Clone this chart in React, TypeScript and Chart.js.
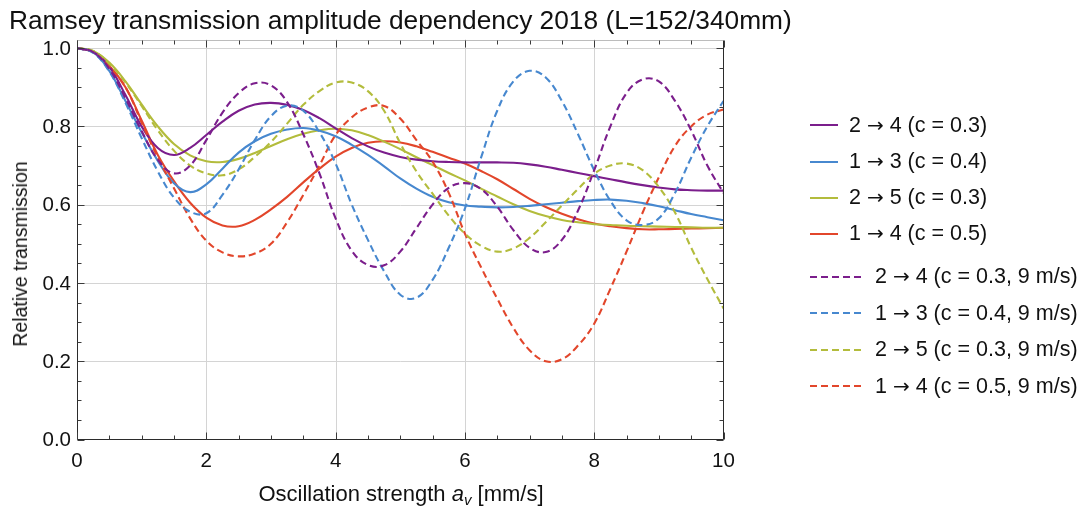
import React, { useEffect, useRef } from "react";
import { Chart, registerables } from "chart.js";

Chart.register(...registerables);

const FONT = '"Liberation Sans", Arial, sans-serif';

const xValues = [
  0, 0.25, 0.5, 0.75, 1, 1.25, 1.5, 1.75, 2, 2.25, 2.5, 2.75, 3, 3.25, 3.5, 3.75, 4, 4.25, 4.5, 4.75,
  5, 5.25, 5.5, 5.75, 6, 6.25, 6.5, 6.75, 7, 7.25, 7.5, 7.75, 8, 8.25, 8.5, 8.75, 9, 9.25, 9.5, 9.75, 10,
];

// solid curves
const purpleSolid = [
  1.0, 0.99, 0.952, 0.88, 0.8, 0.745, 0.727, 0.745, 0.778, 0.812, 0.84, 0.856, 0.86, 0.855, 0.842, 0.821, 0.795, 0.77, 0.749, 0.733,
  0.722, 0.715, 0.711, 0.709, 0.708, 0.708, 0.708, 0.707, 0.703, 0.697, 0.689, 0.681, 0.673, 0.665, 0.657, 0.65, 0.644, 0.639, 0.637, 0.636, 0.636,
];
const blueSolid = [
  1.0, 0.99, 0.942, 0.865, 0.785, 0.712, 0.655, 0.632, 0.652, 0.692, 0.733, 0.762, 0.781, 0.792, 0.796, 0.789, 0.775, 0.753, 0.727, 0.698,
  0.667, 0.641, 0.62, 0.606, 0.598, 0.595, 0.593, 0.594, 0.597, 0.601, 0.605, 0.609, 0.612, 0.613, 0.61, 0.604, 0.596, 0.586, 0.576, 0.568, 0.56,
];
const greenSolid = [
  1.0, 0.993, 0.963, 0.915, 0.856, 0.8, 0.755, 0.726, 0.711, 0.709, 0.717, 0.732, 0.75, 0.767, 0.781, 0.79, 0.794, 0.79, 0.778, 0.761,
  0.742, 0.721, 0.701, 0.681, 0.662, 0.641, 0.621, 0.601, 0.584, 0.571, 0.561, 0.555, 0.55, 0.548, 0.546, 0.545, 0.544, 0.543, 0.542, 0.541, 0.541,
];
const redSolid = [
  1.0, 0.99, 0.955, 0.9, 0.815, 0.727, 0.66, 0.605, 0.567, 0.547, 0.545, 0.561, 0.588, 0.62, 0.657, 0.692, 0.723, 0.745, 0.758, 0.762,
  0.759, 0.749, 0.735, 0.72, 0.705, 0.686, 0.665, 0.64, 0.615, 0.594, 0.577, 0.563, 0.552, 0.545, 0.54, 0.537, 0.537, 0.538, 0.539, 0.54, 0.541,
];

// dashed curves (9 m/s)
const purpleDashed = [
  1.0, 0.99, 0.947, 0.872, 0.788, 0.715, 0.68, 0.7, 0.765, 0.835, 0.885, 0.91, 0.905, 0.862, 0.78, 0.68, 0.565, 0.482, 0.446, 0.445,
  0.48, 0.54, 0.6, 0.643, 0.655, 0.64, 0.595, 0.535, 0.49, 0.479, 0.51, 0.585, 0.688, 0.8, 0.885, 0.92, 0.915, 0.865, 0.79, 0.7, 0.63,
];
const blueDashed = [
  1.0, 0.988, 0.94, 0.86, 0.77, 0.685, 0.618, 0.582, 0.578, 0.625, 0.69, 0.765, 0.826, 0.853, 0.84, 0.785, 0.705, 0.6, 0.51, 0.43,
  0.37, 0.362, 0.408, 0.49, 0.59, 0.72, 0.84, 0.915, 0.942, 0.925, 0.865, 0.78, 0.688, 0.61, 0.56, 0.548, 0.565, 0.63, 0.72, 0.8, 0.865,
];
const greenDashed = [
  1.0, 0.993, 0.96, 0.912, 0.852, 0.79, 0.738, 0.7, 0.68, 0.675, 0.69, 0.722, 0.76, 0.807, 0.855, 0.89, 0.912, 0.912, 0.89, 0.84,
  0.757, 0.685, 0.628, 0.572, 0.526, 0.495, 0.48, 0.488, 0.515, 0.555, 0.598, 0.64, 0.679, 0.7, 0.705, 0.688, 0.645, 0.58, 0.49, 0.41, 0.335,
];
const redDashed = [
  1.0, 0.99, 0.953, 0.9, 0.81, 0.72, 0.642, 0.565, 0.508, 0.478, 0.468, 0.475, 0.5, 0.555, 0.625, 0.7, 0.778, 0.823, 0.848, 0.852,
  0.82, 0.765, 0.71, 0.63, 0.526, 0.44, 0.36, 0.285, 0.228, 0.2, 0.205, 0.24, 0.296, 0.385, 0.48, 0.58, 0.67, 0.75, 0.8, 0.83, 0.843,
];

const seriesLabels = [
  "2 → 4 (c = 0.3)",
  "1 → 3 (c = 0.4)",
  "2 → 5 (c = 0.3)",
  "1 → 4 (c = 0.5)",
  "2 → 4 (c = 0.3, 9 m/s)",
  "1 → 3 (c = 0.4, 9 m/s)",
  "2 → 5 (c = 0.3, 9 m/s)",
  "1 → 4 (c = 0.5, 9 m/s)",
];
const seriesValues = [purpleSolid, blueSolid, greenSolid, redSolid, purpleDashed, blueDashed, greenDashed, redDashed];
const seriesColors = ["#7B1E8C", "#4788CF", "#B3BC3C", "#E2462B", "#7B1E8C", "#4788CF", "#B3BC3C", "#E2462B"];
const seriesDashed = [false, false, false, false, true, true, true, true];

const xTickValues = [0, 2, 4, 6, 8, 10];
const xTickLabels = ["0", "2", "4", "6", "8", "10"];
const yTickValues = [0, 0.2, 0.4, 0.6, 0.8, 1.0];
const yTickLabels = ["0.0", "0.2", "0.4", "0.6", "0.8", "1.0"];

const titleText = "Ramsey transmission amplitude dependency 2018 (L=152/340mm)";
const yTitleText = "Relative transmission";

const legendTops = [125, 161.5, 197.5, 233.5, 276.5, 313, 349.5, 386];

const framePlugin = {
  id: "mmaFrame",
  beforeDatasetsDraw(chart: any) {
    const { ctx, chartArea: a, scales } = chart;
    const xs = scales.x;
    const ys = scales.y;
    ctx.save();
    ctx.strokeStyle = "#d4d4d4";
    ctx.lineWidth = 1;
    ctx.beginPath();
    xTickValues.forEach((v) => {
      if (v === 0 || v === 10) return;
      const px = Math.round(xs.getPixelForValue(v)) + 0.5;
      ctx.moveTo(px, a.top);
      ctx.lineTo(px, a.bottom);
    });
    yTickValues.forEach((v) => {
      if (v === 0) return;
      const py = Math.round(ys.getPixelForValue(v)) + 0.5;
      ctx.moveTo(a.left, py);
      ctx.lineTo(a.right, py);
    });
    ctx.stroke();
    ctx.restore();
  },
  afterDatasetsDraw(chart: any) {
    const { ctx, chartArea: a, scales } = chart;
    const xs = scales.x;
    const ys = scales.y;
    const L = Math.round(a.left) + 0.5;
    const R = Math.round(a.right) - 0.5;
    const B = Math.round(a.bottom) - 0.5;
    const T = Math.round(a.top) + 0.5;
    ctx.save();
    ctx.strokeStyle = "#bcbcbc";
    ctx.lineWidth = 1;
    ctx.beginPath();
    ctx.moveTo(L, T);
    ctx.lineTo(R, T);
    ctx.stroke();
    ctx.strokeStyle = "#2b2b2b";
    ctx.beginPath();
    ctx.moveTo(L, T);
    ctx.lineTo(L, B);
    ctx.lineTo(R, B);
    ctx.lineTo(R, T);
    ctx.stroke();
    ctx.strokeStyle = "#3a3a3a";
    ctx.beginPath();
    for (let i = 0; i <= 20; i++) {
      const v = i * 0.5;
      const len = i % 4 === 0 ? 7 : 4;
      const px = Math.round(xs.getPixelForValue(v)) + 0.5;
      ctx.moveTo(px, B);
      ctx.lineTo(px, B - len);
      ctx.moveTo(px, T);
      ctx.lineTo(px, T + len);
    }
    for (let i = 0; i <= 20; i++) {
      const v = i * 0.05;
      const len = i % 4 === 0 ? 7 : 4;
      const py = Math.round(ys.getPixelForValue(v)) + 0.5;
      ctx.moveTo(L, py);
      ctx.lineTo(L + len, py);
      ctx.moveTo(R, py);
      ctx.lineTo(R - len, py);
    }
    ctx.stroke();
    ctx.fillStyle = "#111";
    ctx.font = `20.5px ${FONT}`;
    ctx.textAlign = "center";
    ctx.textBaseline = "middle";
    xTickValues.forEach((v, i) => {
      ctx.fillText(xTickLabels[i], xs.getPixelForValue(v), a.bottom + 22);
    });
    ctx.textAlign = "right";
    yTickValues.forEach((v, i) => {
      ctx.fillText(yTickLabels[i], a.left - 6, ys.getPixelForValue(v) + 1);
    });
    ctx.restore();
  },
};

function LegendText({ text }: { text: string }) {
  const parts = text.split("→");
  return (
    <span>
      {parts[0]}
      <span style={{ fontFamily: '"DejaVu Sans", sans-serif', fontSize: 20 }}>→</span>
      {parts[1]}
    </span>
  );
}

export default function App() {
  const canvasRef = useRef<HTMLCanvasElement | null>(null);

  useEffect(() => {
    if (!canvasRef.current) return;
    const datasets = seriesValues.map((vals, i) => ({
      label: seriesLabels[i],
      data: vals.map((y, j) => ({ x: xValues[j], y })),
      borderColor: seriesColors[i],
      backgroundColor: seriesColors[i],
      borderWidth: 2.1,
      borderDash: seriesDashed[i] ? [7, 4] : [],
      pointRadius: 0,
      fill: false,
      tension: 0.4,
      order: seriesDashed[i] ? 0 : 1,
    }));
    const chart = new Chart(canvasRef.current, {
      type: "line",
      data: { datasets },
      options: {
        responsive: false,
        animation: false,
        devicePixelRatio: 1,
        layout: { padding: { left: 77, top: 39.5, right: 1088 - 723.5, bottom: 512 - 439.5 } },
        plugins: { legend: { display: false }, tooltip: { enabled: false }, title: { display: false } },
        scales: {
          x: { type: "linear", min: 0, max: 10, display: false },
          y: { type: "linear", min: 0, max: 1.022, display: false },
        },
      },
      plugins: [framePlugin],
    });
    return () => chart.destroy();
  }, []);

  return (
    <div style={{ position: "fixed", left: 0, top: 0, width: 1088, height: 512, background: "#fff", fontFamily: FONT, color: "#111" }}>
      <canvas ref={canvasRef} width={1088} height={512} style={{ position: "absolute", left: 0, top: 0, width: 1088, height: 512 }} />
      <div style={{ position: "absolute", left: 9, top: 5, fontSize: 26.3, whiteSpace: "nowrap", lineHeight: "30px" }}>{titleText}</div>
      <div
        style={{
          position: "absolute",
          left: 20,
          top: 254,
          fontSize: 19.5,
          whiteSpace: "nowrap",
          lineHeight: "22px",
          transform: "translate(-50%, -50%) rotate(-90deg)",
        }}
      >
        {yTitleText}
      </div>
      <div style={{ position: "absolute", left: 401, top: 497, fontSize: 22, whiteSpace: "nowrap", lineHeight: "26px", transform: "translate(-50%, -50%)" }}>
        Oscillation strength <i>a</i>
        <sub style={{ fontSize: 15, fontStyle: "italic", verticalAlign: "-4px" }}>v</sub> [mm/s]
      </div>
      {seriesLabels.map((lab, i) => (
        <div key={i} style={{ position: "absolute", left: 810, top: legendTops[i] - 13, height: 26, display: "flex", alignItems: "center", whiteSpace: "nowrap", fontSize: 21.5 }}>
          <svg width={seriesDashed[i] ? 52 : 28} height={4} style={{ display: "block" }}>
            <line
              x1={0}
              y1={2}
              x2={seriesDashed[i] ? 52 : 28}
              y2={2}
              stroke={seriesColors[i]}
              strokeWidth={2}
              strokeDasharray={seriesDashed[i] ? "7 4" : undefined}
            />
          </svg>
          <span style={{ marginLeft: seriesDashed[i] ? 13 : 11 }}>
            <LegendText text={lab} />
          </span>
        </div>
      ))}
    </div>
  );
}
